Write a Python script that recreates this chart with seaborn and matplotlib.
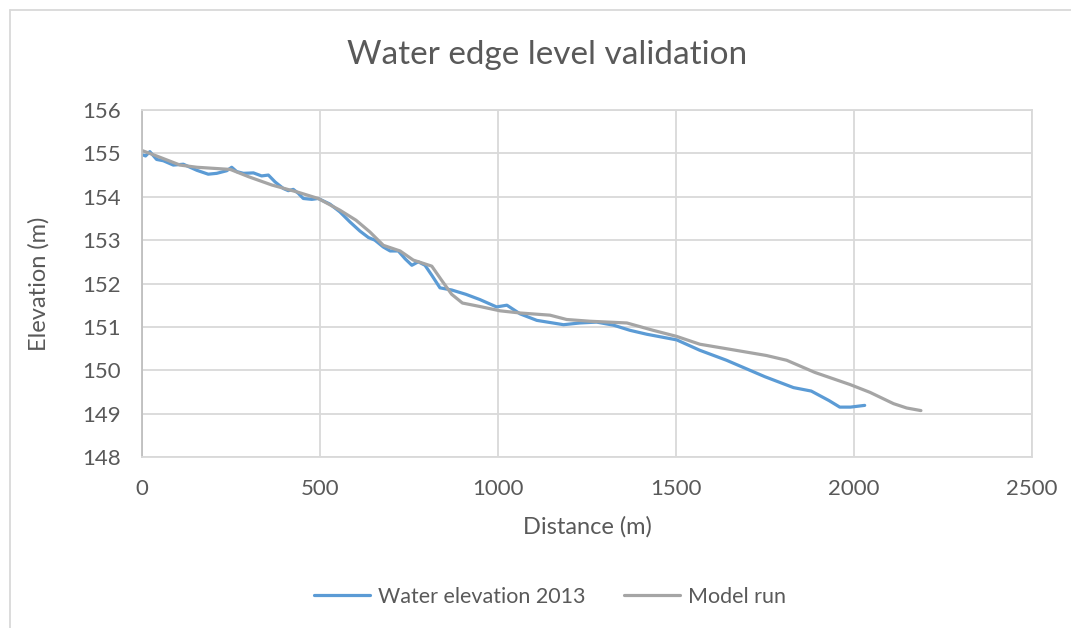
import pandas as pd
import matplotlib.pyplot as plt
import seaborn as sns
from matplotlib.lines import Line2D

# Data
water_dist = [4, 10, 22, 41, 60, 88, 116, 154, 186, 210, 238, 252, 266, 285, 313, 336, 355,
              374, 397, 411, 425, 439, 453, 477, 495, 528, 556, 584, 612, 636, 654, 678, 697,
              720, 739, 758, 776, 795, 814, 837, 870, 910, 949, 996, 1025, 1062, 1109, 1184,
              1230, 1277, 1324, 1371, 1418, 1502, 1567, 1642, 1750, 1830, 1880, 1930, 1960,
              1990, 2030]
water_elev = [154.96, 154.94, 155.04, 154.86, 154.83, 154.73, 154.75, 154.61, 154.52, 154.54,
              154.60, 154.68, 154.58, 154.54, 154.55, 154.48, 154.50, 154.34, 154.19, 154.14,
              154.17, 154.08, 153.96, 153.94, 153.96, 153.83, 153.65, 153.42, 153.21, 153.06,
              153.00, 152.84, 152.75, 152.75, 152.57, 152.42, 152.50, 152.42, 152.19, 151.90,
              151.85, 151.75, 151.63, 151.46, 151.50, 151.30, 151.15, 151.05, 151.09, 151.11,
              151.04, 150.92, 150.83, 150.70, 150.46, 150.23, 149.85, 149.60, 149.52, 149.30,
              149.15, 149.15, 149.19]

model_dist = [2, 41, 107, 154, 248, 300, 365, 440, 495, 556, 601, 640, 678, 725, 762, 814,
              842, 870, 900, 949, 1006, 1062, 1146, 1193, 1258, 1362, 1436, 1502, 1567, 1661,
              1754, 1811, 1890, 1989, 2045, 2111, 2148, 2188]
model_elev = [155.06, 154.94, 154.73, 154.68, 154.63, 154.46, 154.27, 154.10, 153.96, 153.69,
              153.46, 153.19, 152.88, 152.75, 152.54, 152.40, 152.07, 151.75, 151.55, 151.47,
              151.37, 151.32, 151.27, 151.17, 151.13, 151.09, 150.92, 150.78, 150.60, 150.47,
              150.34, 150.23, 149.95, 149.67, 149.49, 149.23, 149.13, 149.07]

series_names = ["Water elevation 2013", "Model run"]
colors = ["#5B9BD5", "#A5A5A5"]

df = pd.concat([
    pd.DataFrame({"dist": water_dist, "elev": water_elev, "series": series_names[0]}),
    pd.DataFrame({"dist": model_dist, "elev": model_elev, "series": series_names[1]}),
])

sns.set_style("white")
plt.rcParams["font.family"] = ["Lato", "DejaVu Sans"]
text_col = "#595959"

fig = plt.figure(figsize=(10.71, 6.28), dpi=100)
ax = fig.add_axes([142 / 1071, 1 - 457 / 628, 890 / 1071, 347 / 628])

sns.lineplot(data=df, x="dist", y="elev", hue="series", palette=colors,
             estimator=None, sort=False, linewidth=2.3, ax=ax, legend=True)

ax.set_xlim(0, 2500)
ax.set_ylim(148, 156)
ax.set_xticks(range(0, 2501, 500))
ax.set_yticks(range(148, 157))
ax.grid(True, color="#D9D9D9", linewidth=1.3)
ax.set_axisbelow(True)
for side in ["top", "right", "bottom"]:
    ax.spines[side].set_color("#D9D9D9")
    ax.spines[side].set_linewidth(1.3)
ax.spines["left"].set_color("#BFBFBF")
ax.spines["left"].set_linewidth(1.3)
ax.tick_params(axis="both", length=0, labelsize=16, labelcolor=text_col)
ax.tick_params(axis="y", pad=15)
ax.tick_params(axis="x", pad=16)
ax.set_xlabel("Distance (m)", fontsize=17, color=text_col, labelpad=12)
ax.set_ylabel("Elevation (m)", fontsize=17, color=text_col, labelpad=24)

handles, labels = ax.get_legend_handles_labels()
ax.get_legend().remove()
leg = fig.legend(handles, labels, loc="center", bbox_to_anchor=(550 / 1071, 1 - 597 / 628),
                 ncol=2, frameon=False, fontsize=15.5, handlelength=2.6, columnspacing=1.8,
                 handletextpad=0.35)
for t in leg.get_texts():
    t.set_color(text_col)

fig.text(547 / 1071, 1 - 55 / 628, "Water edge level validation", ha="center", va="center",
         fontsize=24, color=text_col)

# chart area border (only left and top edges fall inside the picture)
bx, by = 10 / 1071, 1 - 10 / 628
fig.add_artist(Line2D([bx, bx], [0, by], color="#D9D9D9", linewidth=1.3))
fig.add_artist(Line2D([bx, 1], [by, by], color="#D9D9D9", linewidth=1.3))

fig.savefig("out.png", dpi=100)
